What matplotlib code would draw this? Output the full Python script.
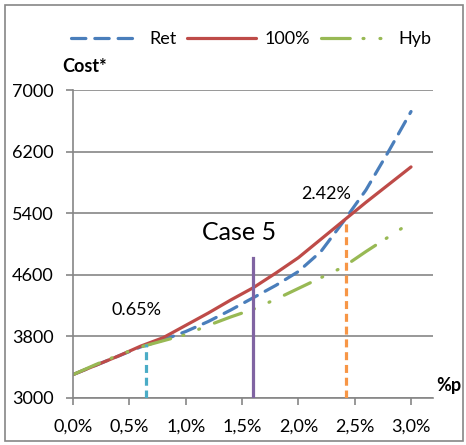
import matplotlib
matplotlib.use("Agg")
import matplotlib.pyplot as plt
from matplotlib.patches import Rectangle

plt.rcParams['font.family'] = ['Lato', 'DejaVu Sans']

x_pct = [0.0, 0.2, 0.4, 0.6, 0.8, 1.0, 1.2, 1.4, 1.6, 1.8, 2.0, 2.2, 2.4, 2.6, 2.8, 3.0]
ret = [3300, 3420, 3540, 3660, 3750, 3860, 3990, 4140, 4300, 4460, 4640, 4900, 5290, 5700, 6200, 6720]
full = [3300, 3420, 3540, 3670, 3780, 3940, 4100, 4270, 4430, 4620, 4820, 5060, 5300, 5540, 5770, 6000]
hyb = [3300, 3430, 3550, 3660, 3740, 3820, 3940, 4050, 4150, 4280, 4420, 4560, 4700, 4900, 5090, 5280]

y_ticks = [3000, 3800, 4600, 5400, 6200, 7000]
x_ticks = [0.0, 0.5, 1.0, 1.5, 2.0, 2.5, 3.0]
x_labels = ["0,0%", "0,5%", "1,0%", "1,5%", "2,0%", "2,5%", "3,0%"]

marker_lines = [(0.65, 3700, "#4bacc6", "dash"), (1.6, 4820, "#8064a2", "solid"), (2.42, 5315, "#f79646", "dash")]

FS = 13

fig = plt.figure(figsize=(4.66, 4.45), dpi=100)
ax = fig.add_axes([73/466, 1-397.7/445, 360/466, 307.7/445])

fig.patches.append(Rectangle((5/466, 4/445), 458/466, 436/445, transform=fig.transFigure,
                             fill=False, edgecolor="#868686", linewidth=1.2))

ax.plot(x_pct, ret, color="#4a7ebb", lw=2.3, dashes=(4.5, 2.8), label="Ret", dash_capstyle='round')
ax.plot(x_pct, full, color="#be4b48", lw=2.3, label="100%", solid_capstyle='round')
ax.plot(x_pct, hyb, color="#98b954", lw=2.3, dashes=(9, 4, 0.3, 5, 0.3, 5), label="Hyb", dash_capstyle='round')

for xv, top, col, style in marker_lines:
    if style == "dash":
        ax.plot([xv, xv], [3000, top], color=col, lw=2.3, dashes=(2.5, 1.5), zorder=3)
    else:
        ax.plot([xv, xv], [3000, top], color=col, lw=2.3, zorder=3)

ax.set_xlim(0, 3.195)
ax.set_ylim(3000, 7000)
ax.set_yticks(y_ticks)
ax.set_yticklabels([str(v) for v in y_ticks], fontsize=FS)
ax.set_xticks(x_ticks)
ax.set_xticklabels(x_labels, fontsize=FS)
ax.grid(axis='y', color="#868686", lw=1.2)
ax.set_axisbelow(True)
for s in ['top', 'right']:
    ax.spines[s].set_visible(False)
for s in ['left', 'bottom']:
    ax.spines[s].set_color("#868686")
    ax.spines[s].set_linewidth(1.2)
ax.tick_params(axis='both', color="#868686", length=5, width=1.2, direction='out')
ax.tick_params(axis='y', pad=9)
ax.tick_params(axis='x', pad=10)

ax.text(0.56, 4140, "0.65%", ha='center', va='center', fontsize=FS)
ax.text(1.473, 5150, "Case 5", ha='center', va='center', fontsize=18)
ax.text(2.245, 5650, "2.42%", ha='center', va='center', fontsize=FS)

fig.text(62/466, 1-66/445, "Cost*", fontsize=FS, fontweight='bold', va='center', ha='left')
fig.text(436/466, 1-386/445, "%p", fontsize=FS, fontweight='bold', va='center', ha='left')

leg = fig.legend(loc='center', bbox_to_anchor=(0.54, 1-39/445), ncol=3, frameon=False,
                 fontsize=FS, handlelength=3.8, columnspacing=0.6, handletextpad=0.5)

fig.savefig("out.png", dpi=100)
